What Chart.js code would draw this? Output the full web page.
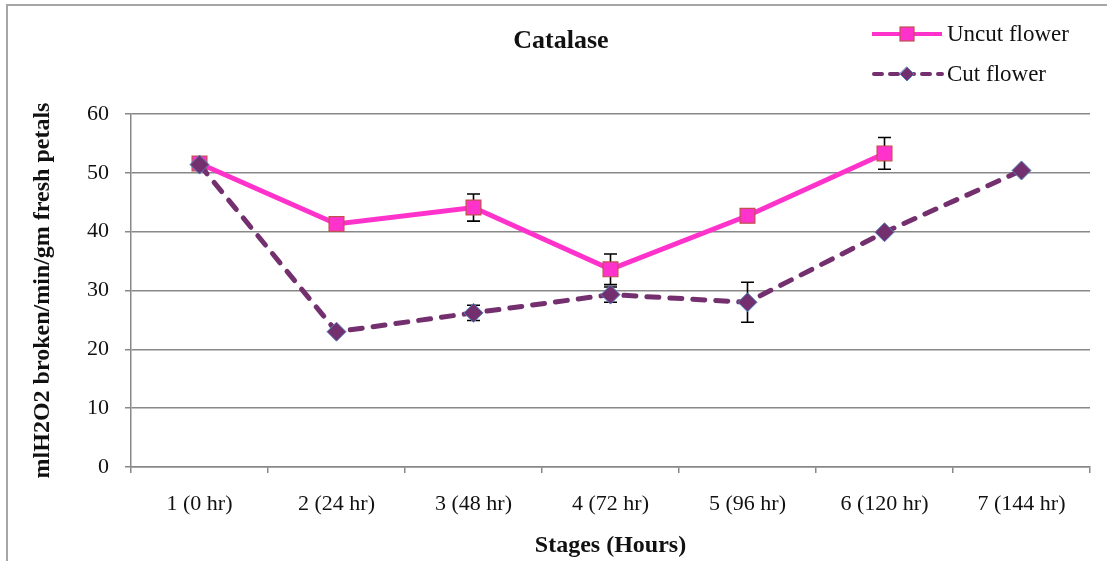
<!DOCTYPE html>
<html>
<head>
<meta charset="utf-8">
<script src="https://cdn.jsdelivr.net/npm/chart.js@4"></script>
<style>
  html, body { margin: 0; padding: 0; background: #fff; }
  #wrap { width: 1107px; height: 561px; position: relative; }
</style>
</head>
<body>
<div id="wrap"><canvas id="graph_catalase"></canvas></div>
<script>
// chart data
const stages = ['1 (0 hr)', '2 (24 hr)', '3 (48 hr)', '4 (72 hr)', '5 (96 hr)', '6 (120 hr)', '7 (144 hr)'];
const uncutValues = [51.6, 41.3, 44.1, 33.6, 42.7, 53.3, null];
const uncutErrors = [0, 0, 2.3, 2.6, 0, 2.7, null];
const cutValues = [51.4, 23.0, 26.2, 29.3, 28.0, 39.9, 50.4];
const cutErrors = [0, 0, 1.3, 1.3, 3.4, 0, 0];
const yTicks = [0, 10, 20, 30, 40, 50, 60];

const serif = "'Liberation Serif', 'Times New Roman', serif";
const pink = '#ff33cc';
const purple = '#74306e';

// error bars, drawn through the scales
const errorBars = {
  id: 'errorBars',
  beforeDatasetsDraw(chart) {
    const ctx = chart.ctx;
    const x = chart.scales.x, y = chart.scales.y;
    const sets = [[uncutValues, uncutErrors], [cutValues, cutErrors]];
    ctx.save();
    ctx.strokeStyle = '#000';
    ctx.lineWidth = 1.6;
    sets.forEach(([vals, errs]) => {
      vals.forEach((v, i) => {
        if (v == null || !errs[i]) return;
        const px = x.getPixelForValue(i);
        const top = y.getPixelForValue(v + errs[i]);
        const bot = y.getPixelForValue(v - errs[i]);
        ctx.beginPath();
        ctx.moveTo(px, top); ctx.lineTo(px, bot);
        ctx.moveTo(px - 6.5, top); ctx.lineTo(px + 6.5, top);
        ctx.moveTo(px - 6.5, bot); ctx.lineTo(px + 6.5, bot);
        ctx.stroke();
      });
    });
    ctx.restore();
  }
};

// frame, title and the legend box at top right
const decorations = {
  id: 'decorations',
  beforeDraw(chart) {
    const ctx = chart.ctx;
    ctx.save();
    ctx.fillStyle = '#fff';
    ctx.fillRect(0, 0, chart.width, chart.height);
    ctx.strokeStyle = '#a6a6a6';
    ctx.lineWidth = 2;
    ctx.strokeRect(7, 5, 1200, 600);
    ctx.restore();
  },
  afterDraw(chart) {
    const ctx = chart.ctx;
    ctx.save();
    ctx.fillStyle = '#111';
    ctx.textBaseline = 'middle';
    ctx.textAlign = 'center';
    ctx.font = 'bold 26px ' + serif;
    ctx.fillText('Catalase', 561, 41);

    // Uncut flower
    ctx.strokeStyle = pink;
    ctx.lineWidth = 4;
    ctx.beginPath(); ctx.moveTo(872, 34); ctx.lineTo(942, 34); ctx.stroke();
    ctx.fillStyle = pink;
    ctx.fillRect(900, 27, 14, 14);
    ctx.strokeStyle = '#c0504d';
    ctx.lineWidth = 1.2;
    ctx.strokeRect(900, 27, 14, 14);

    // Cut flower
    ctx.strokeStyle = purple;
    ctx.lineWidth = 4;
    ctx.setLineDash([8, 8]);
    ctx.lineCap = 'round';
    ctx.beginPath(); ctx.moveTo(874, 74); ctx.lineTo(942, 74); ctx.stroke();
    ctx.setLineDash([]);
    ctx.beginPath();
    ctx.moveTo(907, 67); ctx.lineTo(914, 74); ctx.lineTo(907, 81); ctx.lineTo(900, 74); ctx.closePath();
    ctx.fillStyle = purple; ctx.fill();
    ctx.strokeStyle = '#4f81bd'; ctx.lineWidth = 1; ctx.stroke();

    ctx.fillStyle = '#111';
    ctx.textAlign = 'left';
    ctx.font = '23px ' + serif;
    ctx.fillText('Uncut flower', 947, 35);
    ctx.fillText('Cut flower', 947, 75);
    ctx.restore();
  }
};

function createChart(chartId) {
  const ctx = document.getElementById(chartId).getContext('2d');
  return new Chart(ctx, {
    type: 'line',
    data: {
      labels: stages,
      datasets: [{
        label: 'Uncut flower',
        data: uncutValues,
        order: 1,
        borderColor: pink,
        borderWidth: 5,
        pointStyle: 'rect',
        pointRadius: 10.5,
        pointBackgroundColor: pink,
        pointBorderColor: '#c0504d',
        pointBorderWidth: 1.2,
        tension: 0,
        spanGaps: false,
      }, {
        label: 'Cut flower',
        data: cutValues,
        order: 0,
        borderColor: purple,
        borderWidth: 5,
        borderDash: [12, 11],
        borderCapStyle: 'round',
        pointStyle: 'rectRot',
        pointRadius: 9.5,
        pointBackgroundColor: purple,
        pointBorderColor: '#4f81bd',
        pointBorderWidth: 1,
        tension: 0,
      }],
    },
    options: {
      responsive: true,
      maintainAspectRatio: false,
      animation: false,
      layout: { padding: { top: 114, right: 17, left: 0, bottom: 0 } },
      scales: {
        x: {
          offset: true,
          grid: { offset: true, drawOnChartArea: false, drawTicks: true, tickLength: 6, color: '#888', lineWidth: 1.5 },
          border: { display: true, color: '#888', width: 1.5 },
          ticks: { color: '#111', font: { family: serif, size: 22 }, padding: 18, maxRotation: 0, autoSkip: false },
          title: { display: true, text: 'Stages (Hours)', color: '#111', font: { family: serif, size: 24, weight: 'bold' }, padding: { top: 0, bottom: 1 } },
          afterFit: (scale) => { scale.height = 94; },
        },
        y: {
          min: 0,
          max: 60,
          afterBuildTicks: (scale) => { scale.ticks = yTicks.map(v => ({ value: v })); },
          grid: { color: '#888', lineWidth: 1.5, tickLength: 6 },
          border: { display: true, color: '#888', width: 1.5 },
          ticks: { color: '#111', font: { family: serif, size: 22 }, padding: 16 },
          title: { display: true, text: 'mlH2O2 broken/min/gm fresh petals', color: '#111', font: { family: serif, size: 24, weight: 'bold' }, padding: { top: 28, bottom: 0 } },
          afterFit: (scale) => { scale.width = 131; },
        }
      },
      plugins: {
        legend: { display: false },
        title: { display: false },
        tooltip: { enabled: false },
      },
    },
    plugins: [decorations, errorBars],
  });
}

createChart('graph_catalase');
</script>
</body>
</html>
